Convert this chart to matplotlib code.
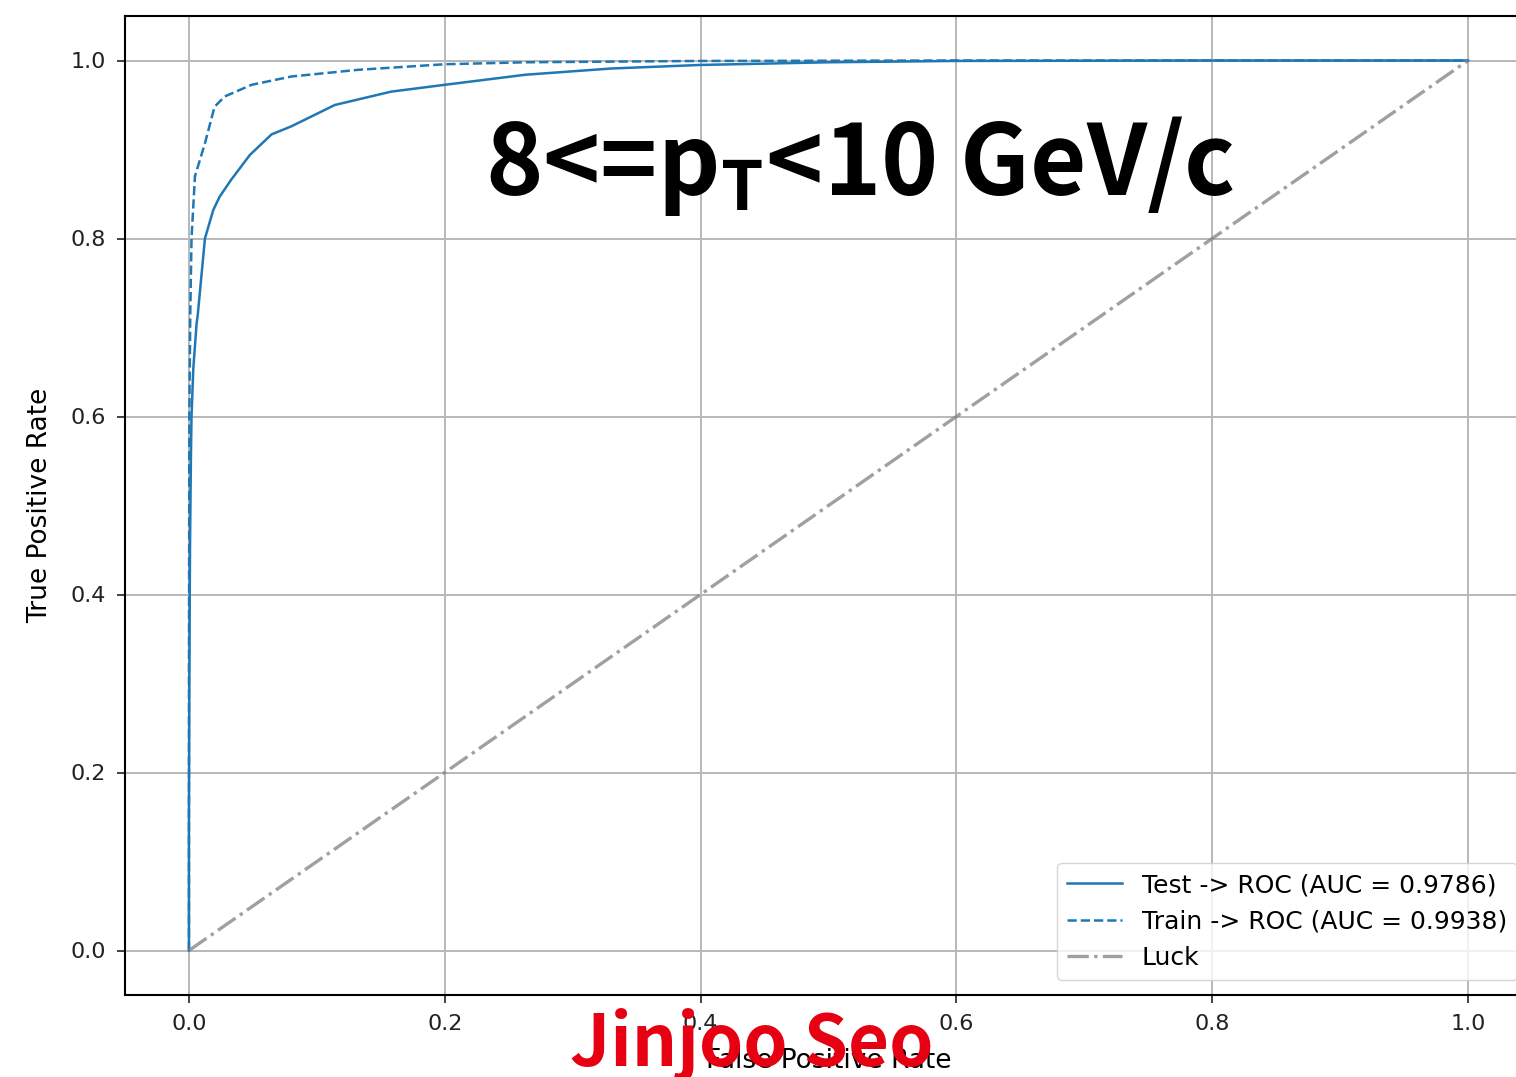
import matplotlib
matplotlib.use("Agg")
import matplotlib.pyplot as plt

# ROC curve points (false positive rate, true positive rate)
test_fpr = [0.0, 0.0, 0.0003, 0.0008, 0.0015, 0.002, 0.0034, 0.006, 0.0068, 0.0125,
            0.019, 0.024, 0.033, 0.0477, 0.0646, 0.080, 0.114, 0.158, 0.200, 0.263,
            0.33, 0.40, 0.50, 0.60, 0.80, 1.0]
test_tpr = [0.0, 0.15, 0.30, 0.45, 0.55, 0.60, 0.654, 0.705, 0.713, 0.80,
            0.832, 0.847, 0.866, 0.894, 0.917, 0.926, 0.950, 0.965, 0.9727, 0.984,
            0.991, 0.995, 0.998, 0.9995, 1.0, 1.0]

train_fpr = [0.0, 0.0, 0.0003, 0.001, 0.002, 0.0047, 0.0125, 0.020, 0.028, 0.049,
             0.080, 0.132, 0.200, 0.263, 0.40, 0.60, 1.0]
train_tpr = [0.0, 0.30, 0.60, 0.713, 0.80, 0.870, 0.907, 0.948, 0.9596, 0.9727,
             0.982, 0.9895, 0.9958, 0.998, 0.9995, 1.0, 1.0]

luck_x = [0.0, 1.0]
luck_y = [0.0, 1.0]

auc_test = 0.9786
auc_train = 0.9938
ticks = [0.0, 0.2, 0.4, 0.6, 0.8, 1.0]

plt.rcParams['mathtext.fontset'] = 'custom'
plt.rcParams['mathtext.rm'] = 'Noto Sans CJK KR:bold'

fig = plt.figure(figsize=(15.16, 10.77), dpi=100)
ax = fig.add_axes([125 / 1516, 82 / 1077, (1532 - 125) / 1516, (995 - 16) / 1077])

blue = '#1f77b4'
ax.plot(test_fpr, test_tpr, color=blue, lw=1.8, ls='-',
        label=f'Test -> ROC (AUC = {auc_test:.4f})')
ax.plot(train_fpr, train_tpr, color=blue, lw=1.8, ls='--',
        label=f'Train -> ROC (AUC = {auc_train:.4f})')
ax.plot(luck_x, luck_y, color='gray', alpha=0.75, lw=2.4, ls='-.', label='Luck')

ax.set_xlim(-0.05, 1.05)
ax.set_ylim(-0.05, 1.05)
ax.set_xticks(ticks)
ax.set_yticks(ticks)
ax.tick_params(labelsize=16, length=6, width=1.2, pad=8, colors='#222222')
ax.grid(True, color='#b8b8b8', lw=1.4)
for s in ax.spines.values():
    s.set_linewidth(1.5)

ax.set_xlabel('False Positive Rate', fontsize=19, labelpad=10)
ax.set_ylabel('True Positive Rate', fontsize=19, labelpad=12)

ax.legend(loc='lower right', fontsize=18, handlelength=2.2,
          borderaxespad=0.6, framealpha=0.8)

fig.text(485 / 1516, 1 - 195 / 1077, r'8<=p$_{\mathrm{T}}$<10 GeV/c',
         fontsize=70, family=['Noto Sans CJK KR', 'DejaVu Sans'],
         fontweight='bold', color='black', ha='left', va='baseline')

fig.text(570 / 1516, 1 - 1066 / 1077, 'Jinjoo Seo', fontsize=51,
         family=['Noto Sans CJK KR', 'DejaVu Sans'], fontweight='bold',
         color='#e60012', ha='left', va='baseline')

fig.savefig('out.png', dpi=100)
